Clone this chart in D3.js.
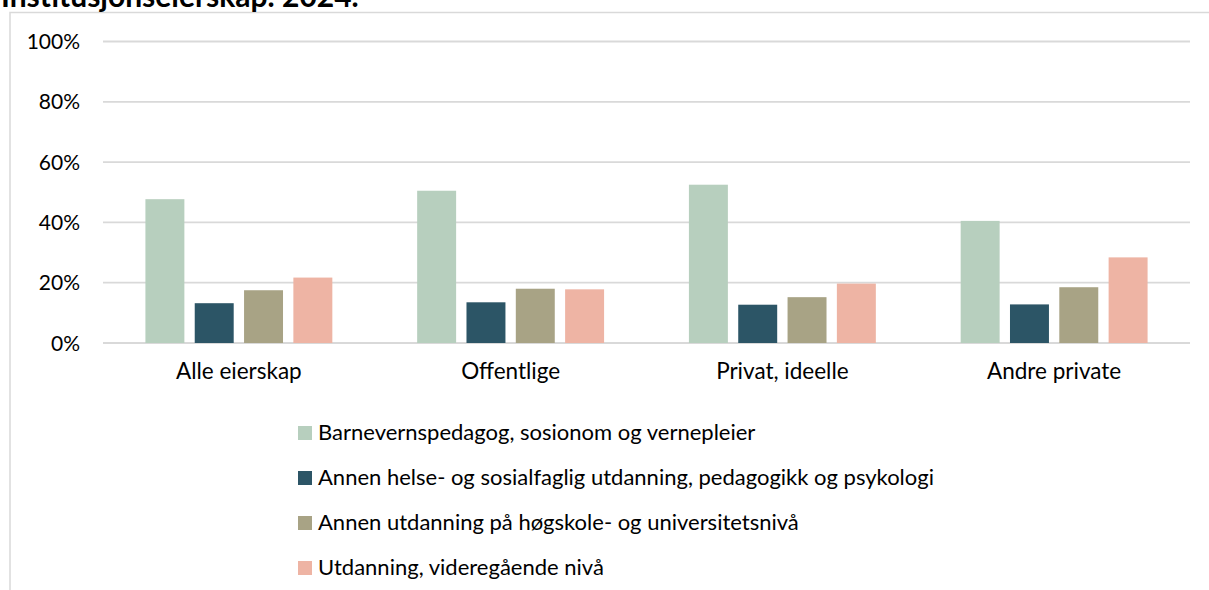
<!DOCTYPE html>
<html lang="no">
<head>
    <meta charset="UTF-8">
    <title>Institusjonseierskap 2024</title>
    <script src="https://d3js.org/d3.v7.min.js"></script>
    <style>
        body{
            margin: 0;
            background: #ffffff;
        }
        text{
            font-family: Lato, "Open Sans", sans-serif;
            fill: #000000;
        }
        .grid line{
            stroke: #d9d9d9;
            stroke-width: 1.8px;
        }
    </style>
</head>
<body>
<svg id="chart" width="1209" height="590"></svg>

<script>
    // kategorier (eierskap)
    let categories = ["Alle eierskap", "Offentlige", "Privat, ideelle", "Andre private"]
    // serier
    let series = [
        "Barnevernspedagog, sosionom og vernepleier",
        "Annen helse- og sosialfaglig utdanning, pedagogikk og psykologi",
        "Annen utdanning på høgskole- og universitetsnivå",
        "Utdanning, videregående nivå"
    ]
    let barnevern = [47.7, 50.5, 52.5, 40.5]
    let annenHelse = [13.2, 13.5, 12.7, 12.8]
    let annenUtdanning = [17.5, 18.0, 15.2, 18.5]
    let videregaende = [21.7, 17.8, 19.7, 28.4]
    let yTicks = [0, 20, 40, 60, 80, 100]
    let colors = ["#b7cfbe", "#2c5566", "#a8a385", "#eeb4a4"]

    let values = [barnevern, annenHelse, annenUtdanning, videregaende]

    let svg = d3.select("#chart")

    // ramme rundt diagrammet
    svg.append("path")
        .attr("d", "M10,590 V12.5 H1209")
        .attr("fill", "none")
        .attr("stroke", "#d9d9d9")
        .attr("stroke-width", 1.5)

    // tittel (delvis avkuttet i toppen, som i originalen)
    svg.append("text")
        .attr("x", 1)
        .attr("y", 7)
        .style("font-size", "30px")
        .style("font-weight", "bold")
        .text("Institusjonseierskap. 2024.")

    let x0 = d3.scaleBand()
        .domain(categories)
        .range([103, 1190])
        .padding(0)

    let x1 = d3.scaleBand()
        .domain(d3.range(series.length))
        .range([0, x0.bandwidth()])
        .paddingInner(0.21)
        .paddingOuter(0.86)

    let y = d3.scaleLinear()
        .domain([0, 100])
        .range([343, 41.5])

    // rutenett
    let grid = svg.append("g").attr("class", "grid")
    grid.selectAll("line")
        .data(yTicks)
        .join("line")
        .attr("x1", 103)
        .attr("x2", 1190)
        .attr("y1", d => y(d))
        .attr("y2", d => y(d))

    // y-akse etiketter
    svg.append("g")
        .selectAll("text")
        .data(yTicks)
        .join("text")
        .attr("x", 80)
        .attr("y", d => y(d) + 7.5)
        .attr("text-anchor", "end")
        .style("font-size", "21px")
        .text(d => d + "%")

    // søyler
    let groups = svg.append("g")
        .selectAll("g")
        .data(categories)
        .join("g")
        .attr("transform", d => "translate(" + x0(d) + ",0)")

    groups.selectAll("rect")
        .data((c, ci) => values.map((v, si) => ({s: si, v: v[ci]})))
        .join("rect")
        .attr("x", d => x1(d.s))
        .attr("width", x1.bandwidth())
        .attr("y", d => y(d.v))
        .attr("height", d => y(0) - y(d.v))
        .attr("fill", d => colors[d.s])

    // kategori-etiketter
    svg.append("g")
        .selectAll("text")
        .data(categories)
        .join("text")
        .attr("x", d => x0(d) + x0.bandwidth() / 2)
        .attr("y", 379)
        .attr("text-anchor", "middle")
        .style("font-size", "22.5px")
        .text(d => d)

    // forklaring
    let legend = svg.append("g")
        .selectAll("g")
        .data(series)
        .join("g")
        .attr("transform", (d, i) => "translate(298," + (440 + i * 45) + ")")

    legend.append("rect")
        .attr("x", 0)
        .attr("y", -14)
        .attr("width", 14)
        .attr("height", 14)
        .attr("fill", (d, i) => colors[i])

    legend.append("text")
        .attr("x", 20)
        .attr("y", 0)
        .style("font-size", "22px")
        .text(d => d)
</script>

</body>
</html>
